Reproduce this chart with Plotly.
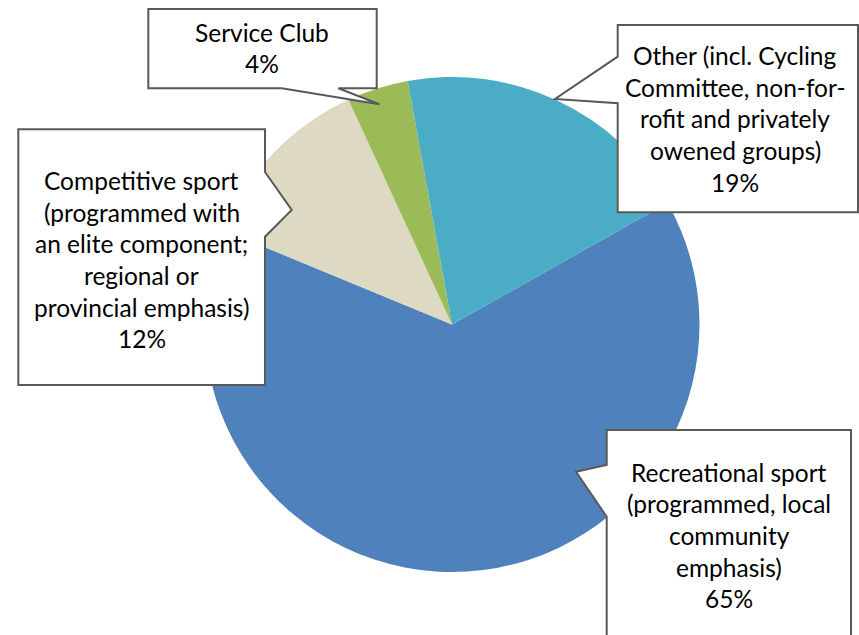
import plotly.graph_objects as go

W, H = 859, 635

categories = [
    "Recreational sport (programmed, local community emphasis)",
    "Competitive sport (programmed with an elite component; regional or provincial emphasis)",
    "Service Club",
    "Other (incl. Cycling Committee, non-for-rofit and privately owened groups)",
]
values = [64.4, 11.9, 4.0, 19.7]
pct_labels = ["65%", "12%", "4%", "19%"]
label_lines = [
    ["Recreational sport", "(programmed, local", "community", "emphasis)"],
    ["Competitive sport", "(programmed with", "an elite component;", "regional or", "provincial emphasis)"],
    ["Service Club"],
    ["Other (incl. Cycling", "Committee, non-for-", "rofit and privately", "owened groups)"],
]
colors = ["#4F81BD", "#DDD9C3", "#9BBB59", "#4BACC6"]


def px(x, y):
    return x / W, 1 - y / H


# pie geometry (pixels)
cx, cy, r = 452, 324.5, 247.5
x0, y0 = px(cx - r, cy - r)
x1, y1 = px(cx + r, cy + r)

fig = go.Figure(go.Pie(
    labels=categories,
    values=values,
    marker=dict(colors=colors, line=dict(width=0)),
    sort=False,
    direction="clockwise",
    rotation=60.6,
    textinfo="none",
    hoverinfo="label+percent",
    domain=dict(x=[x0, x1], y=[y1, y0]),
    showlegend=False,
))

# callout boxes (pixel outlines with tails)
callouts = [
    # Recreational
    dict(path=[(606.7, 430), (851, 430), (851, 640), (606.7, 640), (606.7, 516.7), (576, 471.7), (606.7, 465)],
         tx=729, ty0=473.3),
    # Competitive
    dict(path=[(18.3, 129.3), (265, 129.3), (265, 172), (291.7, 210), (265, 236.7), (265, 385), (18.3, 385)],
         tx=141.7, ty0=181.7),
    # Service Club
    dict(path=[(148.3, 9), (376.7, 9), (376.7, 88.3), (338.3, 88.3), (379.3, 104.3), (281.7, 88.3), (148.3, 88.3)],
         tx=262, ty0=33),
    # Other
    dict(path=[(617.7, 25), (858, 25), (858, 212.3), (617.7, 212.3), (617.7, 103.3), (555, 99), (617.7, 56.7)],
         tx=735, ty0=56.7),
]

line_h = 31.6
shapes = []
annotations = []
for i, c in enumerate(callouts):
    pts = [px(x, y) for x, y in c["path"]]
    d = "M " + " L ".join(f"{a:.5f},{b:.5f}" for a, b in pts) + " Z"
    shapes.append(dict(type="path", xref="paper", yref="paper", path=d,
                       fillcolor="white", line=dict(color="#595959", width=2)))
    lines = label_lines[i] + [pct_labels[i]]
    for k, t in enumerate(lines):
        ax, ay = px(c["tx"], c["ty0"] + k * line_h - 1)
        annotations.append(dict(x=ax, y=ay, xref="paper", yref="paper", text=t,
                                showarrow=False, xanchor="center", yanchor="middle",
                                font=dict(family="Lato", size=24.5, color="#000000")))

fig.update_layout(
    width=W, height=H,
    margin=dict(l=0, r=0, t=0, b=0),
    paper_bgcolor="white",
    plot_bgcolor="white",
    shapes=shapes,
    annotations=annotations,
)

fig.write_html("out.html",
               config={"displayModeBar": False},
               post_script="document.body.style.margin='0';document.body.style.padding='0';document.body.style.overflow='hidden';")
